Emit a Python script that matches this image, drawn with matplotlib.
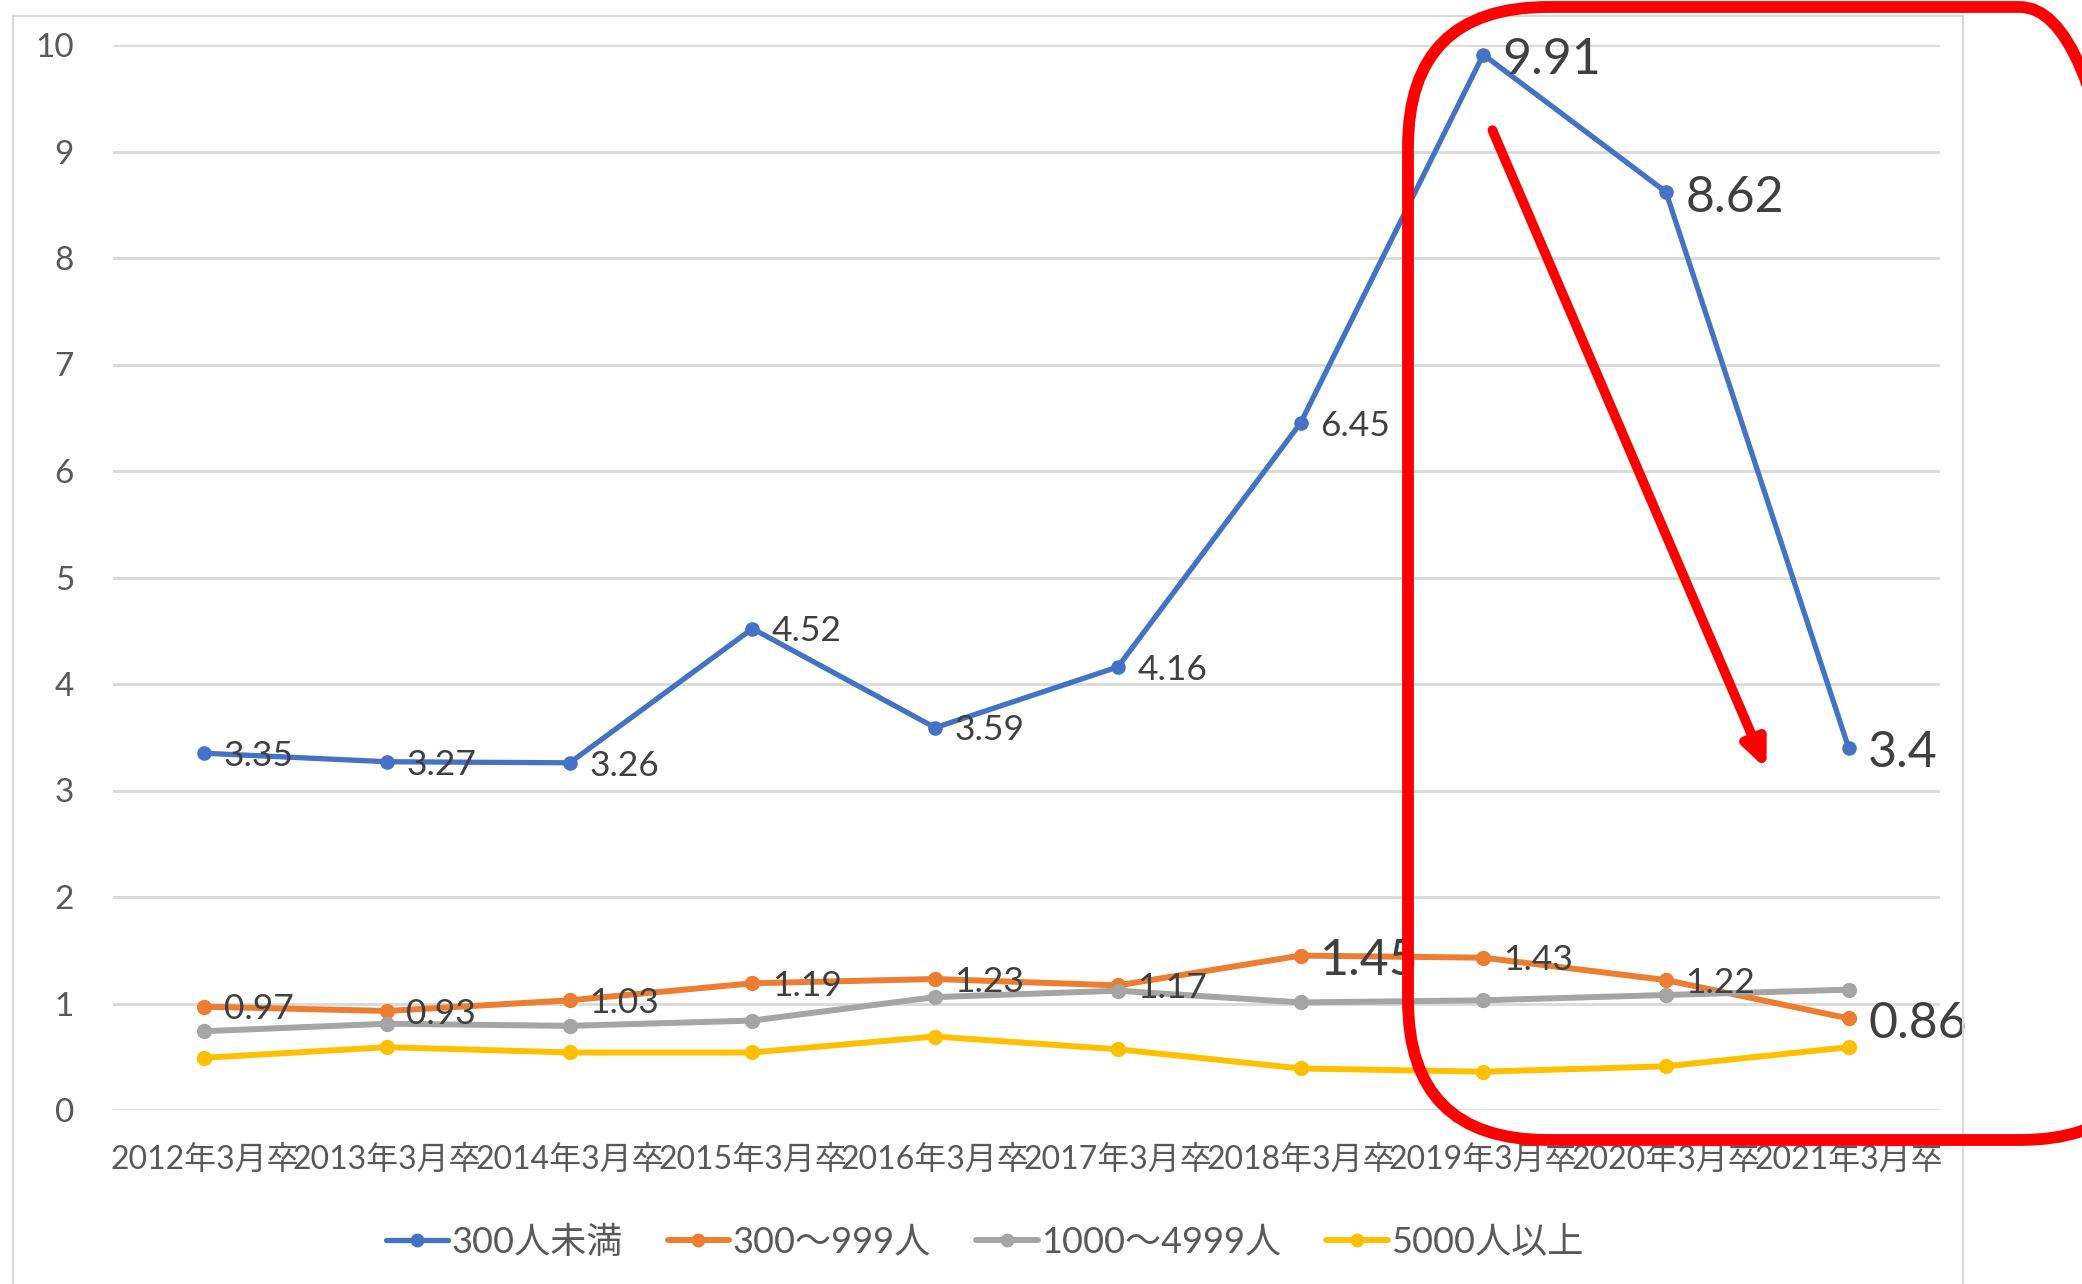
import matplotlib
matplotlib.use("Agg")
import matplotlib.pyplot as plt
from matplotlib.patches import FancyBboxPatch, Rectangle

plt.rcParams["font.family"] = ["Lato", "Noto Sans CJK JP", "DejaVu Sans"]

years = ["2012年3月卒", "2013年3月卒", "2014年3月卒", "2015年3月卒", "2016年3月卒",
         "2017年3月卒", "2018年3月卒", "2019年3月卒", "2020年3月卒", "2021年3月卒"]
under300 = [3.35, 3.27, 3.26, 4.52, 3.59, 4.16, 6.45, 9.91, 8.62, 3.40]
s300_999 = [0.97, 0.93, 1.03, 1.19, 1.23, 1.17, 1.45, 1.43, 1.22, 0.86]
s1000_4999 = [0.74, 0.81, 0.79, 0.84, 1.06, 1.12, 1.01, 1.03, 1.08, 1.13]
over5000 = [0.49, 0.59, 0.54, 0.54, 0.69, 0.57, 0.39, 0.36, 0.41, 0.59]
names = ["300人未満", "300～999人", "1000～4999人", "5000人以上"]
under300_labels = ["3.35", "3.27", "3.26", "4.52", "3.59", "4.16", "6.45", "9.91", "8.62", "3.4"]
s300_999_labels = ["0.97", "0.93", "1.03", "1.19", "1.23", "1.17", "1.45", "1.43", "1.22", "0.86"]
big_blue = [7, 8, 9]
big_orange = [6, 9]

W, H = 2082, 1284
fig = plt.figure(figsize=(W / 100, H / 100), dpi=100)
ax = fig.add_axes([113 / W, 1 - 1110 / H, (1940 - 113) / W, (1110 - 45) / H])

# chart frame (pixel coords, origin bottom-left)
fig.patches.append(Rectangle((13, -20), 1963 - 13, H - 16 + 20, transform=None,
                             fill=False, edgecolor="#D9D9D9", lw=1.5, zorder=0))

x = list(range(len(years)))
series = [
    (under300, "#4472C4", 3.8, 9.5),
    (s300_999, "#ED7D31", 4.3, 10),
    (s1000_4999, "#A5A5A5", 4.3, 10),
    (over5000, "#FFC000", 4.3, 10),
]
for (vals, color, lw, ms), name in zip(series, names):
    ax.plot(x, vals, color=color, lw=lw, marker="o", ms=ms, label=name,
            solid_capstyle="round", zorder=3)

for vals, labels, big in [(under300, under300_labels, big_blue),
                          (s300_999, s300_999_labels, big_orange)]:
    for i, (v, t) in enumerate(zip(vals, labels)):
        ax.annotate(t, (i, v), xytext=(14, -4 if i in big else -2),
                    textcoords="offset points", ha="left", va="center",
                    color="#404040", fontsize=36 if i in big else 25.5, zorder=5)

ax.set_xlim(-0.5, 9.5)
ax.set_ylim(0, 10)
ax.set_yticks(range(0, 11))
ax.set_xticks(x)
ax.set_xticklabels(years)
ax.tick_params(axis="both", length=0, labelcolor="#595959", labelsize=23)
ax.tick_params(axis="y", pad=28, labelsize=24)
ax.tick_params(axis="x", pad=25)
ax.grid(axis="y", color="#D9D9D9", lw=2)
ax.set_axisbelow(True)
for s in ax.spines.values():
    s.set_visible(False)

leg = fig.legend(loc="center", bbox_to_anchor=(985 / W, 1 - 1242 / H), ncol=4,
                 frameon=False, fontsize=26, handlelength=1.7, handletextpad=0.1,
                 columnspacing=1.25, labelcolor="#595959")
for h in leg.legend_handles:
    h.set_markersize(9)

# red highlight box (pixels) and arrow
box = FancyBboxPatch((1408, H - 1140), 2160 - 1408, 1140 - 7,
                     boxstyle="round,pad=0,rounding_size=140",
                     transform=None, fill=False, edgecolor="#FF0000",
                     lw=8.5, zorder=10)
fig.patches.append(box)
ax.annotate("", xy=(8.55, 3.2), xytext=(7.05, 9.2),
            arrowprops=dict(arrowstyle="-|>,head_length=1.6,head_width=0.7",
                            color="#FF0000", lw=7, shrinkA=0, shrinkB=0),
            zorder=11)

fig.savefig("out.png", dpi=100)
